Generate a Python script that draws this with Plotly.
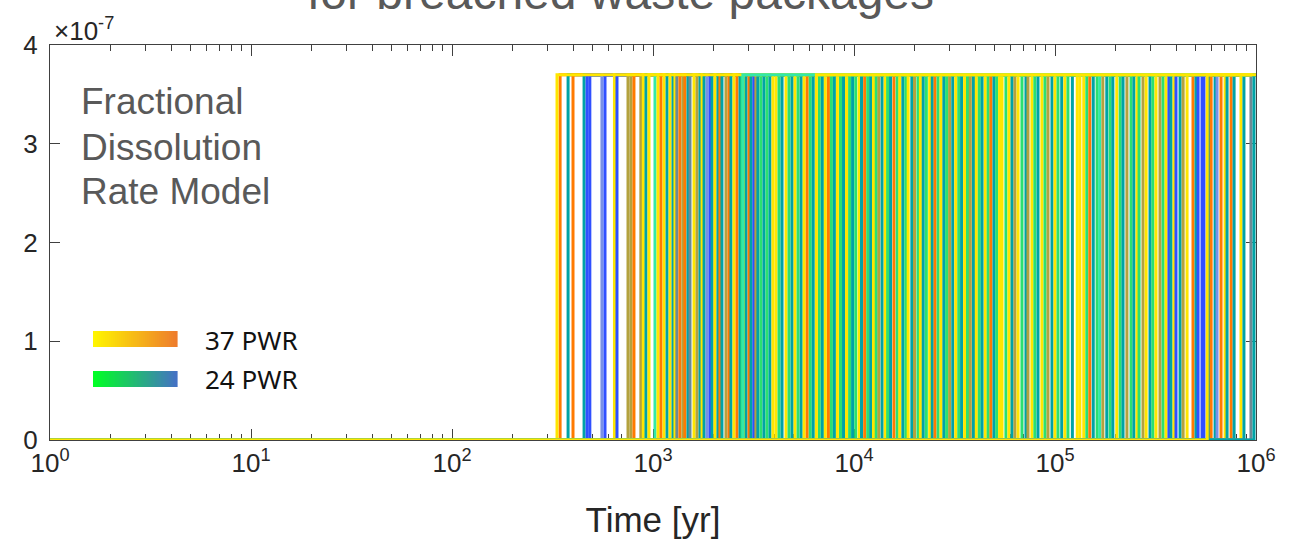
import plotly.graph_objects as go

# ---------------- data ----------------
rate_level = 3.7e-7          # fractional dissolution rate after breach
t_first, t_last = 1, 1e6     # time span of every curve [yr]

# breach times [yr] of the 37-PWR packages and their shade codes
t37 = [333, 345, 400, 643, 751, 777, 804, 870, 895, 955,
       1059, 1096, 1135, 1216, 1286, 1361, 1409, 1442, 1600, 1656,
       1754, 2033, 2153, 2307, 2388, 2529, 2618, 2838, 3006, 3251,
       3953, 4092, 4590, 5090, 5650, 5850, 6500, 7200, 7460, 8270,
       9180, 10600, 11300, 12500, 13300, 14300, 15800, 16900, 18600, 20000,
       21400, 23800, 25300, 27100, 29900, 32100, 35500, 37900, 40600, 45000,
       48000, 53000, 54500, 59000, 63200, 65500, 73400, 76800, 86100, 92300,
       100000, 112000, 129000, 133000, 139000, 149000, 173000, 203000, 228000, 256000,
       274000, 284000, 318000, 333000, 357000, 391000, 434000, 454000, 486000, 572000,
       598000, 670000, 702000, 752000, 842000]
c37 = ["y", "o", "o", "y", "l", "l", "o", "l", "y", "y",
       "y", "o", "y", "y", "y", "o", "l", "o", "y", "l",
       "y", "y", "o", "l", "o", "y", "o", "y", "o", "l",
       "y", "y", "y", "y", "y", "o", "y", "y", "o", "y",
       "y", "y", "o", "y", "l", "y", "o", "y", "y", "l",
       "y", "y", "o", "y", "l", "y", "y", "l", "y", "y",
       "o", "y", "y", "y", "l", "y", "l", "y", "y", "l",
       "y", "y", "y", "y", "y", "o", "l", "y", "l", "y",
       "l", "y", "y", "l", "y", "y", "l", "y", "o", "y",
       "o", "o", "y", "o", "y"]

# breach times [yr] of the 24-PWR packages and their shade codes
t24 = [378, 454, 470, 485, 557, 577, 662, 923, 1023, 1175,
       1258, 1315, 1493, 1528, 1714, 1795, 1858, 1923, 1968, 2104,
       2203, 2444, 2710, 2773, 2800, 2904, 3076, 3177, 3327, 3444,
       3565, 3690, 3819, 4236, 4385, 4750, 4920, 5270, 5460, 6060,
       6270, 6720, 6960, 7720, 7990, 8570, 8870, 9510, 9840, 10200,
       10900, 11700, 12100, 12900, 13800, 14700, 15200, 16400, 17500, 18100,
       19400, 20800, 22100, 22900, 24500, 26200, 28000, 28900, 31000, 33200,
       34300, 36700, 39300, 42000, 43400, 46500, 49700, 51300, 57000, 61100,
       68500, 71700, 79400, 82300, 89200, 96600, 103500, 108000, 116000, 122000,
       144000, 155000, 162000, 167000, 181000, 188000, 194000, 211000, 218000, 239000,
       247000, 262000, 297000, 307000, 345000, 369000, 378000, 400000, 419000, 503000,
       515000, 539000, 551000, 580000, 626000, 640000, 718000, 778000, 871000, 944000,
       977000]
c24 = ["t", "t", "b", "b", "s", "b", "b", "t", "m", "t",
       "t", "k", "t", "k", "t", "t", "s", "b", "t", "t",
       "t", "t", "t", "g", "m", "t", "t", "b", "t", "g",
       "t", "g", "t", "g", "t", "g", "t", "g", "t", "g",
       "t", "g", "t", "g", "t", "g", "t", "g", "t", "g",
       "t", "g", "t", "g", "t", "g", "t", "g", "t", "g",
       "t", "g", "t", "g", "t", "g", "t", "g", "t", "g",
       "t", "g", "t", "g", "t", "g", "t", "g", "g", "t",
       "g", "t", "g", "t", "g", "t", "g", "t", "g", "t",
       "g", "t", "g", "m", "t", "g", "t", "g", "t", "g",
       "t", "g", "t", "g", "g", "b", "t", "b", "t", "t",
       "b", "b", "b", "t", "t", "s", "t", "t", "t", "k",
       "t"]

# curves drawn last (they colour the shared top / bottom segments)
drawn_last = [("37", 333), ("24", 2800), ("37", 6500), ("24", 977000), ("37", 572000)]

x_tickvals = [1, 10, 100, 1e3, 1e4, 1e5, 1e6]
x_ticktext = ["10<sup>0</sup>", "10<sup>1</sup>", "10<sup>2</sup>", "10<sup>3</sup>",
              "10<sup>4</sup>", "10<sup>5</sup>", "10<sup>6</sup>"]
y_tickvals = [0, 1e-7, 2e-7, 3e-7, 4e-7]
y_ticktext = ["0", "1", "2", "3", "4"]
model_label = ["Fractional", "Dissolution", "Rate Model"]

# ---------------- styling ----------------
shade = {
    "37": {"y": "#FFE600", "o": "#FF7A00", "l": "#B4A23E"},
    "24": {"t": "#00A3A6", "g": "#2BE070", "m": "#33E8A8", "b": "#3050FF",
           "s": "#7890E6", "k": "#6B8A94"},
}
FONT = "Liberation Sans, Arial, sans-serif"
AX = "#404040"
W, H = 1302, 544
L, T = 50, 45
PW, PH = 1206, 395
R, B = W - L - PW, H - T - PH


def px(xs):                  # screen x -> paper
    return (xs - L) / PW


def py(ys):                  # screen y -> paper
    return (T + PH - ys) / PH


fig = go.Figure()

lines = [("37", t, c) for t, c in zip(t37, c37)] + [("24", t, c) for t, c in zip(t24, c24)]
last_keys = set(drawn_last)
regular = sorted([ln for ln in lines if (ln[0], ln[1]) not in last_keys], key=lambda v: v[1])
lookup = {(g, t): c for g, t, c in lines}
ordered = regular + [(g, t, lookup[(g, t)]) for g, t in drawn_last]

for g, t, c in ordered:
    fig.add_trace(go.Scatter(
        x=[t_first, t, t, t_last], y=[0, 0, rate_level, rate_level],
        mode="lines", line=dict(color=shade[g][c], width=3),
        hoverinfo="skip", showlegend=False))

minor_vals = [k * 10 ** d for d in range(6) for k in range(2, 10)]

fig.update_xaxes(
    type="log", range=[0, 6], tickvals=x_tickvals, ticktext=x_ticktext,
    ticks="inside", ticklen=11, tickcolor=AX, tickwidth=1,
    minor=dict(tickvals=minor_vals, ticks="inside", ticklen=6, tickcolor=AX, showgrid=False),
    showline=True, linecolor=AX, linewidth=1, mirror="ticks",
    showgrid=False, zeroline=False, layer="below traces", automargin=False,
    tickfont=dict(family=FONT, size=26, color="#262626"),
    title=dict(text="Time [yr]", font=dict(family=FONT, size=35, color="#262626"), standoff=30),
)
fig.update_yaxes(
    range=[0, 4e-7], tickvals=y_tickvals, ticktext=y_ticktext,
    ticks="inside", ticklen=10, tickcolor=AX, tickwidth=1,
    showline=True, linecolor=AX, linewidth=1, mirror="ticks",
    showgrid=False, zeroline=False, layer="below traces", automargin=False,
    ticklabelstandoff=6,
    tickfont=dict(family=FONT, size=26, color="#262626"),
)

annotations = [
    dict(text="for breached waste packages", x=px(620), y=py(-7), xref="paper", yref="paper",
         xanchor="center", yanchor="middle", showarrow=False,
         font=dict(family=FONT, size=48, color="#595959")),
    dict(text="×10<sup>-7</sup>", x=px(52), y=py(29), xref="paper", yref="paper",
         xanchor="left", yanchor="middle", showarrow=False,
         font=dict(family=FONT, size=26, color="#262626")),
    dict(text="37 PWR", x=px(203), y=py(340), xref="paper", yref="paper",
         xanchor="left", yanchor="middle", showarrow=False,
         font=dict(family="Noto Sans, sans-serif", size=26, color="#111111")),
    dict(text="24 PWR", x=px(203), y=py(379), xref="paper", yref="paper",
         xanchor="left", yanchor="middle", showarrow=False,
         font=dict(family="Noto Sans, sans-serif", size=26, color="#111111")),
]
for txt, yc in zip(model_label, [101, 147, 191]):
    annotations.append(dict(text=txt, x=px(79), y=py(yc), xref="paper", yref="paper",
                            xanchor="left", yanchor="middle", align="left", showarrow=False,
                            font=dict(family=FONT, size=37, color="#595959")))


def hex2rgb(h):
    h = h.lstrip("#")
    return tuple(int(h[i:i + 2], 16) for i in (0, 2, 4))


def blend(a, b, f):
    ra, rb = hex2rgb(a), hex2rgb(b)
    return "rgb(%d,%d,%d)" % tuple(round(ra[i] + (rb[i] - ra[i]) * f) for i in range(3))


shapes = []
legend_bars = [("#FFF500", "#EE7D2C", 331, 347), ("#00FF24", "#4472C4", 371, 387)]
x0, x1, n = 93, 177, 42
for c_left, c_right, ytop, ybot in legend_bars:
    for i in range(n):
        xa = x0 + (x1 - x0) * i / n
        xb = x0 + (x1 - x0) * (i + 1) / n + 0.6
        shapes.append(dict(type="rect", xref="paper", yref="paper",
                           x0=px(xa), x1=px(xb), y0=py(ybot), y1=py(ytop),
                           fillcolor=blend(c_left, c_right, i / (n - 1)), line=dict(width=0)))

fig.update_layout(
    width=W, height=H, margin=dict(l=L, r=R, t=T, b=B),
    paper_bgcolor="white", plot_bgcolor="white",
    annotations=annotations, shapes=shapes, showlegend=False,
)

fig.write_html("out.html", config={"displayModeBar": False},
               post_script="document.body.style.margin='0';document.body.style.overflow='hidden';")
